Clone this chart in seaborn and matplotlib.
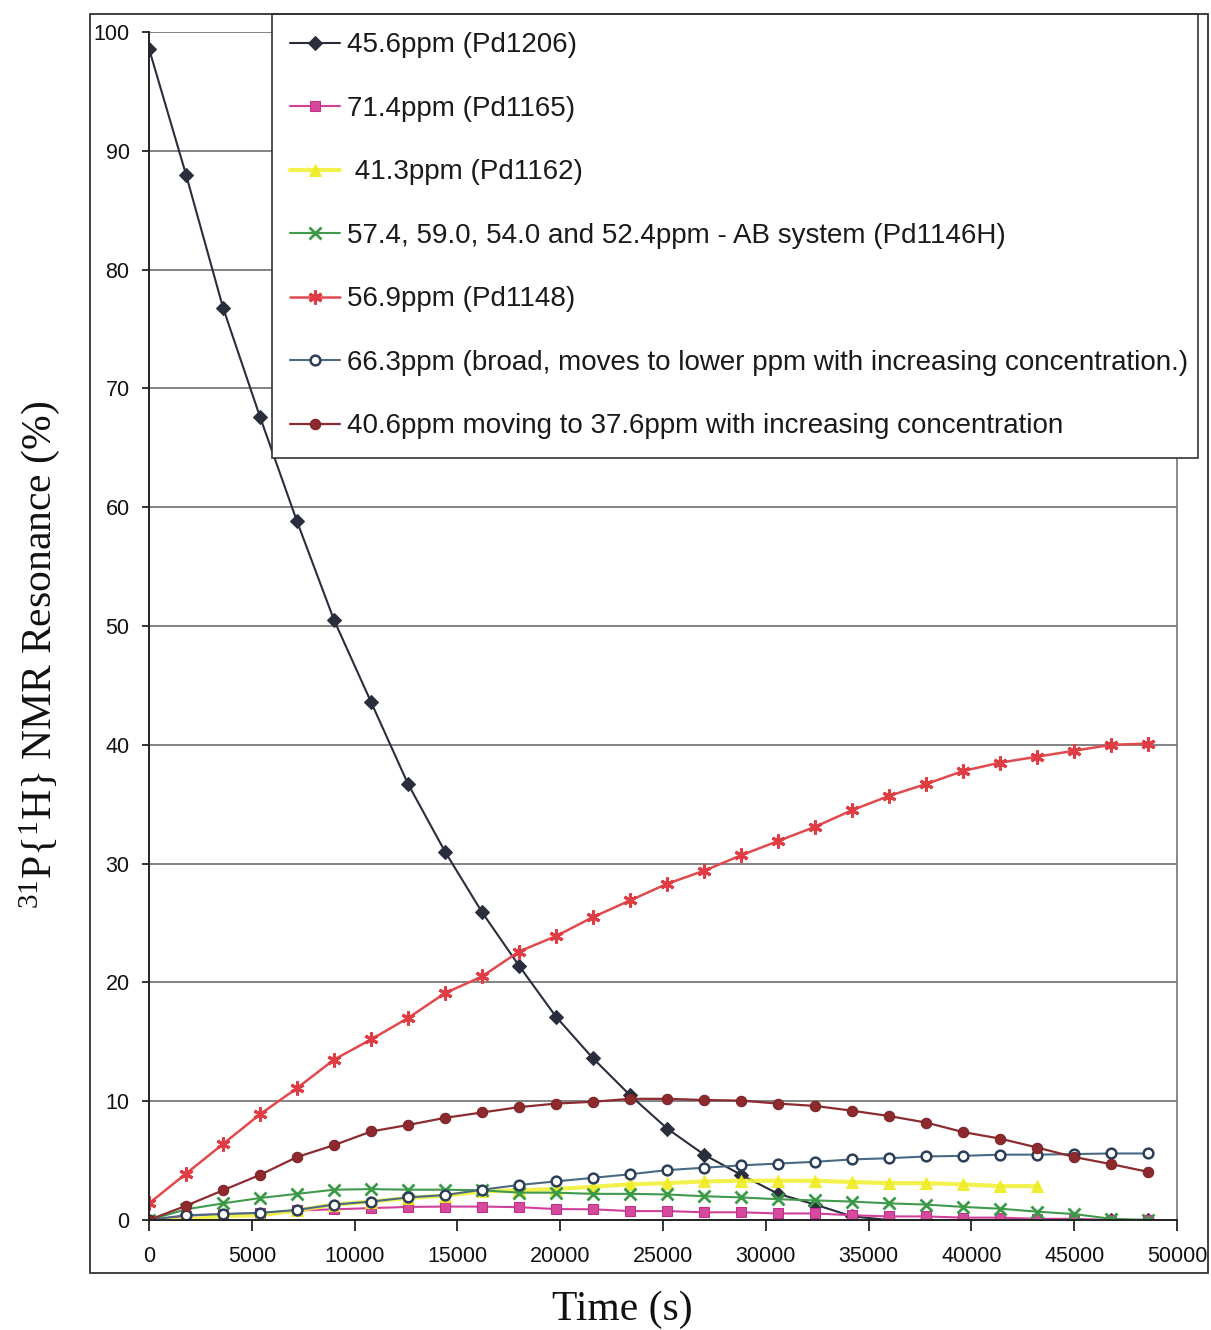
import numpy as np
import pandas as pd
import matplotlib
matplotlib.use("Agg")
import matplotlib.pyplot as plt
from matplotlib.patches import Rectangle
import seaborn as sns

# ---------------- data ----------------
time_s = [0, 1800, 3600, 5400, 7200, 9000, 10800, 12600, 14400, 16200,
          18000, 19800, 21600, 23400, 25200, 27000, 28800, 30600, 32400, 34200,
          36000, 37800, 39600, 41400, 43200, 45000, 46800, 48600]

pd1206 = [98.6, 88.0, 76.8, 67.6, 58.8, 50.5, 43.6, 36.7, 31.0, 25.9,
          21.4, 17.1, 13.6, 10.5, 7.7, 5.5, 3.8, 2.2, 1.3, 0.3,
          0.0, 0.0, 0.0, 0.0, 0.0, 0.0, 0.0, 0.0]
pd1165 = [0.0, 0.35, 0.5, 0.57, 0.8, 0.9, 1.0, 1.1, 1.13, 1.13,
          1.08, 0.92, 0.9, 0.75, 0.75, 0.65, 0.65, 0.55, 0.55, 0.4,
          0.3, 0.3, 0.2, 0.2, 0.1, 0.1, 0.0, 0.0]
pd1162 = [0.0, 0.0, 0.35, 0.4, 0.8, 1.3, 1.55, 1.85, 2.05, 2.4,
          2.5, 2.6, 2.8, 3.0, 3.1, 3.25, 3.3, 3.3, 3.3, 3.2,
          3.1, 3.1, 3.0, 2.85, 2.85]
pd1146h = [0.0, 0.9, 1.4, 1.85, 2.2, 2.55, 2.6, 2.55, 2.55, 2.5,
           2.3, 2.3, 2.2, 2.2, 2.15, 2.0, 1.9, 1.75, 1.65, 1.55,
           1.4, 1.3, 1.1, 0.95, 0.7, 0.5, 0.1, 0.0]
pd1148 = [1.4, 3.9, 6.4, 8.9, 11.1, 13.5, 15.2, 17.0, 19.1, 20.5,
          22.6, 23.9, 25.5, 26.9, 28.3, 29.4, 30.7, 31.9, 33.1, 34.5,
          35.7, 36.7, 37.8, 38.5, 39.0, 39.5, 40.0, 40.1]
broad663 = [0.0, 0.4, 0.5, 0.6, 0.85, 1.3, 1.55, 1.9, 2.1, 2.55,
            2.95, 3.25, 3.55, 3.85, 4.2, 4.4, 4.6, 4.75, 4.9, 5.1,
            5.2, 5.35, 5.4, 5.5, 5.5, 5.55, 5.6, 5.6]
moving406 = [0.0, 1.2, 2.5, 3.8, 5.3, 6.3, 7.45, 8.0, 8.6, 9.05,
             9.5, 9.8, 9.95, 10.2, 10.2, 10.1, 10.05, 9.8, 9.6, 9.2,
             8.75, 8.2, 7.4, 6.85, 6.1, 5.3, 4.7, 4.05]

labels = ["45.6ppm (Pd1206)",
          "71.4ppm (Pd1165)",
          " 41.3ppm (Pd1162)",
          "57.4, 59.0, 54.0 and 52.4ppm - AB system (Pd1146H)",
          "56.9ppm (Pd1148)",
          "66.3ppm (broad, moves to lower ppm with increasing concentration.)",
          "40.6ppm moving to 37.6ppm with increasing concentration"]

x_ticks = [0, 5000, 10000, 15000, 20000, 25000, 30000, 35000, 40000, 45000, 50000]
y_ticks = [0, 10, 20, 30, 40, 50, 60, 70, 80, 90, 100]

# ---------------- style ----------------
sns.set_theme(style="white")
plt.rcParams["font.family"] = ["Liberation Sans", "DejaVu Sans"]
plt.rcParams["mathtext.fontset"] = "custom"
plt.rcParams["mathtext.rm"] = "Liberation Serif"
plt.rcParams["mathtext.it"] = "Liberation Serif:italic"

W, H = 1211, 1330
fig = plt.figure(figsize=(W / 100, H / 100), dpi=100)
fig.patch.set_facecolor("white")
ax = fig.add_axes([149 / W, 1 - 1220 / H, (1177 - 149) / W, (1220 - 32) / H])
ax.set_facecolor("white")

series = [
    (time_s, pd1206, dict(color="#2a2d3c", marker="D", markersize=7, lw=1.5,
                          markerfacecolor="#2a2d3c", markeredgecolor="#2a2d3c")),
    (time_s, pd1165, dict(color="#d0409a", marker="s", markersize=7, lw=1.5,
                          markerfacecolor="#d64a9e", markeredgecolor="#c0308a")),
    (time_s[:len(pd1162)], pd1162, dict(color="#f2f03a", marker="^", markersize=8, lw=3.0,
                                         alpha=0.9,
                                         markerfacecolor="#f0ec20", markeredgecolor="#f0ec20")),
    (time_s, pd1146h, dict(color="#3f9a4c", marker="x", markersize=8, lw=1.5,
                           markeredgewidth=2.0, markeredgecolor="#3a9a48")),
    (time_s, pd1148, dict(color="#e04a4e", marker=(6, 2, 0), markersize=10, lw=1.8,
                          markeredgewidth=2.2, markeredgecolor="#e03c44")),
    (time_s, broad663, dict(color="#4a6a84", marker="o", markersize=7, lw=1.5,
                            markerfacecolor="white", markeredgecolor="#2c3e5a",
                            markeredgewidth=1.8)),
    (time_s, moving406, dict(color="#8c2c30", marker="o", markersize=7.5, lw=1.6,
                             markerfacecolor="#8c2a2e", markeredgecolor="#7a2226")),
]

for (xs, ys, kw), lab in zip(series, labels):
    df = pd.DataFrame({"t": xs, "v": ys})
    sns.lineplot(data=df, x="t", y="v", ax=ax, estimator=None, sort=False,
                 label=lab, **kw)

# ---------------- axes ----------------
ax.set_xlim(0, 50000)
ax.set_ylim(0, 100)
ax.set_xticks(x_ticks)
ax.set_yticks(y_ticks)
ax.set_xticklabels([str(v) for v in x_ticks])
ax.set_yticklabels([str(v) for v in y_ticks])
ax.tick_params(axis="both", labelsize=15.5, colors="#111111")
ax.tick_params(axis="x", direction="out", length=8, width=1.2, pad=11, bottom=True)
ax.tick_params(axis="y", direction="out", length=5, width=1.2, pad=9, left=True)
ax.yaxis.grid(True, color="#7a7a7a", lw=1.3)
ax.xaxis.grid(False)
ax.set_axisbelow(True)
for side in ["left", "bottom"]:
    ax.spines[side].set_color("#222222")
    ax.spines[side].set_linewidth(1.4)
ax.spines["right"].set_color("#777777")
ax.spines["right"].set_linewidth(1.2)
ax.spines["top"].set_visible(False)

ax.set_xlabel("Time (s)", fontsize=30, family=["Liberation Serif"], color="#111111")
ax.set_ylabel("$^{31}$P{$^{1}$H} NMR Resonance (%)", fontsize=30,
              family=["Liberation Serif"], color="#111111")
ax.xaxis.label.set_verticalalignment("center")
ax.yaxis.label.set_verticalalignment("center")
ax.xaxis.set_label_coords((622 - 149) / 1028, (1220 - 1310) / 1188)
ax.yaxis.set_label_coords((40 - 149) / 1028, (1220 - 655) / 1188)

# ---------------- legend ----------------
leg = ax.legend(loc="upper left",
                bbox_to_anchor=(272 / W, 1 - 14 / H, (1198 - 272) / W, 0.0),
                bbox_transform=fig.transFigure, mode="expand",
                borderaxespad=0.0, fontsize=20, frameon=True, fancybox=False,
                framealpha=1.0, edgecolor="#333333", handlelength=1.8,
                handletextpad=0.25, labelspacing=1.35, borderpad=0.66)
leg.get_frame().set_linewidth(1.2)
for t in leg.get_texts():
    t.set_color("#1a1a1a")

# outer chart-area frame
fig.patches.append(Rectangle((90 / W, 1 - 1273 / H), (1208 - 90) / W, (1273 - 14) / H,
                             transform=fig.transFigure, fill=False,
                             edgecolor="#333333", lw=1.3))

fig.savefig("out.png", dpi=100)
